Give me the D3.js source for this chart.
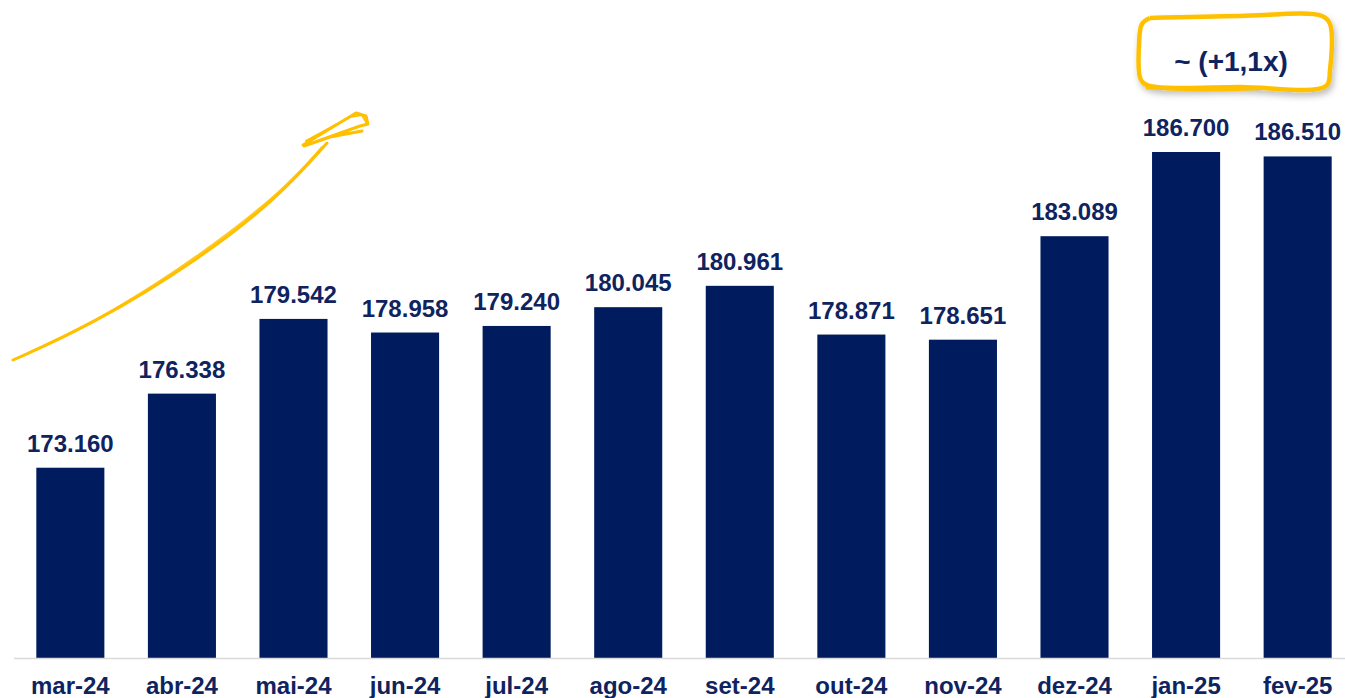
<!DOCTYPE html>
<html>
<head>
<meta charset="utf-8">
<script src="https://cdn.jsdelivr.net/npm/d3@7"></script>
<style>
  body { margin: 0; background: #fff; }
  svg { display: block; font-family: "Liberation Sans", Arial, sans-serif; }
</style>
</head>
<body>
<script>
// month labels and values
let months = ["mar-24", "abr-24", "mai-24", "jun-24", "jul-24", "ago-24", "set-24", "out-24", "nov-24", "dez-24", "jan-25", "fev-25"];
let values = [173160, 176338, 179542, 178958, 179240, 180045, 180961, 178871, 178651, 183089, 186700, 186510];
let valueLabels = ["173.160", "176.338", "179.542", "178.958", "179.240", "180.045", "180.961", "178.871", "178.651", "183.089", "186.700", "186.510"];
let growthLabel = "~ (+1,1x)";

let svgWidth = 1345;
let svgHeight = 698;

let navy = "#001c5e";
let textColor = "#0f235f";
let yellow = "#ffc000";

let svg = d3.select("body")
  .append("svg")
  .attr("width", svgWidth)
  .attr("height", svgHeight);

// x positions: first bar starts ~36, last ends ~1332
let xScale = d3.scaleBand()
  .domain(months)
  .range([14, 1354])
  .paddingInner(0.39)
  .paddingOuter(0.2);

// baseline is not zero, axis starts around 165k
let yScale = d3.scaleLinear()
  .domain([165000, 186700])
  .range([658, 152]);

// shadow for the callout box
let defs = svg.append("defs");
let shadow = defs.append("filter").attr("id", "shadow")
  .attr("x", "-10%").attr("y", "-20%").attr("width", "130%").attr("height", "160%");
shadow.append("feDropShadow")
  .attr("dx", 2).attr("dy", 4).attr("stdDeviation", 3)
  .attr("flood-color", "#000").attr("flood-opacity", 0.25);

// bars
svg.selectAll(".bar")
  .data(values)
  .enter()
  .append("rect")
  .attr("class", "bar")
  .attr("x", (d, i) => xScale(months[i]))
  .attr("y", d => yScale(d))
  .attr("width", xScale.bandwidth())
  .attr("height", d => yScale.range()[0] - yScale(d))
  .attr("fill", navy);

// baseline
svg.append("line")
  .attr("x1", 14).attr("x2", svgWidth)
  .attr("y1", yScale.range()[0] + 0.5).attr("y2", yScale.range()[0] + 0.5)
  .attr("stroke", "#d9d9d9")
  .attr("stroke-width", 1.5);

// value labels
svg.selectAll(".value")
  .data(values)
  .enter()
  .append("text")
  .attr("class", "value")
  .attr("x", (d, i) => xScale(months[i]) + xScale.bandwidth() / 2)
  .attr("y", d => yScale(d) - 16)
  .attr("text-anchor", "middle")
  .attr("font-size", 24)
  .attr("font-weight", "bold")
  .attr("fill", textColor)
  .text((d, i) => valueLabels[i]);

// category labels
let xAxis = d3.axisBottom(xScale).tickSize(0).tickPadding(0);
let axisG = svg.append("g")
  .attr("transform", `translate(0, ${yScale.range()[0]})`)
  .call(xAxis);
axisG.select(".domain").remove();
axisG.selectAll("text")
  .attr("dy", 0)
  .attr("y", 36)
  .attr("font-size", 24)
  .attr("font-weight", "bold")
  .attr("font-family", "'Liberation Sans', Arial, sans-serif")
  .attr("fill", textColor);

// hand-drawn growth arrow
let arrowLine = d3.line().curve(d3.curveBasis);
let arrowG = svg.append("g")
  .attr("fill", "none")
  .attr("stroke", yellow)
  .attr("stroke-linecap", "round");

arrowG.append("path")
  .attr("d", arrowLine([[13, 360], [90, 326], [200, 259], [280, 196], [327, 143]]))
  .attr("stroke-width", 3);
arrowG.append("path")
  .attr("d", arrowLine([[30, 352], [110, 314], [205, 252], [284, 190], [322, 147]]))
  .attr("stroke-width", 2)
  .attr("opacity", 0.85);
// arrow head scribble
arrowG.append("path")
  .attr("d", "M303,145 L356,113 L366,116 L368,124 L360,126 L318,141 L304,146 L330,137 L362,131")
  .attr("stroke-width", 3)
  .attr("stroke-linejoin", "round");
arrowG.append("path")
  .attr("d", "M306,141 L350,117 L362,115 L366,122")
  .attr("stroke-width", 2);

// callout box
let boxLine = d3.line().curve(d3.curveCatmullRom);
let boxG = svg.append("g").attr("filter", "url(#shadow)");
boxG.append("path")
  .attr("d", boxLine([[1150, 18], [1240, 16], [1322, 16], [1330, 24], [1330, 70], [1326, 86], [1240, 87], [1150, 86], [1141, 80], [1139, 45], [1142, 24], [1150, 18]]))
  .attr("fill", "#fff")
  .attr("stroke", yellow)
  .attr("stroke-width", 4.5)
  .attr("stroke-linejoin", "round");
svg.append("path")
  .attr("d", boxLine([[1146, 88], [1200, 90], [1260, 89]]))
  .attr("fill", "none")
  .attr("stroke", yellow)
  .attr("stroke-width", 2.5);

svg.append("text")
  .attr("x", 1231)
  .attr("y", 71)
  .attr("text-anchor", "middle")
  .attr("font-size", 28)
  .attr("font-weight", "bold")
  .attr("fill", textColor)
  .text(growthLabel);
</script>
</body>
</html>
